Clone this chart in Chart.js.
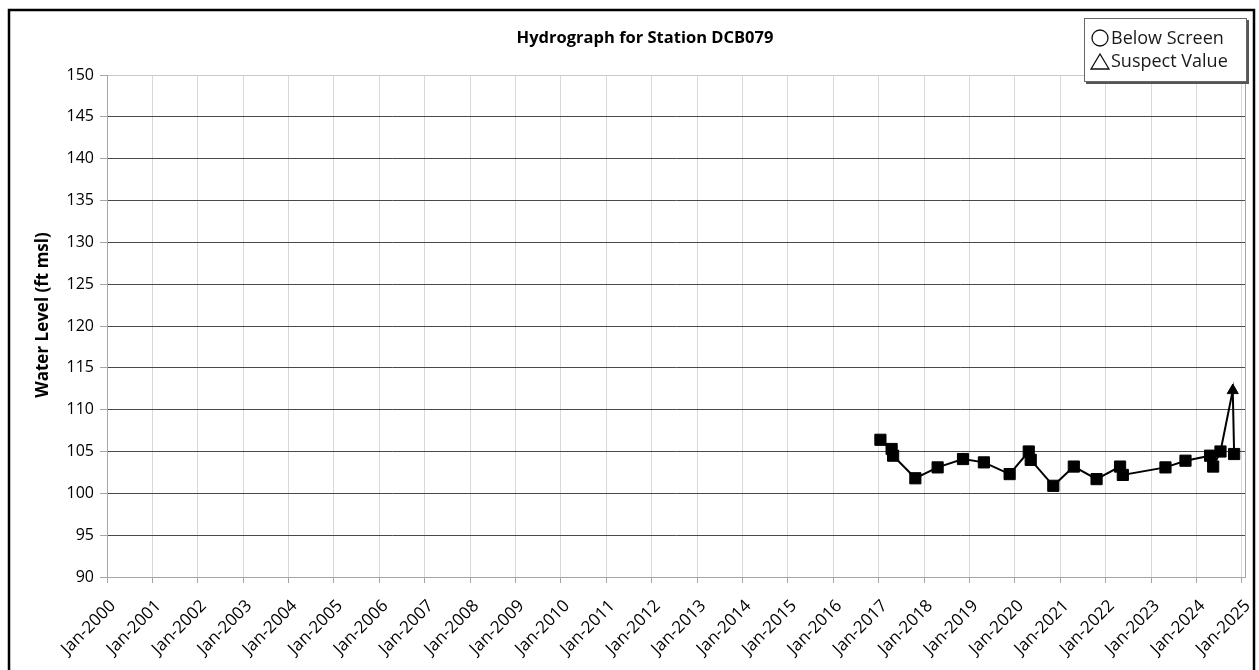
<!DOCTYPE html>
<html>
<head>
<meta charset="utf-8">
<title>Hydrograph for Station DCB079</title>
<script src="https://cdn.jsdelivr.net/npm/chart.js@4.4.1/dist/chart.umd.min.js"></script>
<style>
    html, body { margin: 0; padding: 0; background: #fff; }
    canvas { display: block; }
</style>
</head>
<body>
<canvas id="hydroChart" width="1259" height="670"></canvas>
<script>
const stationName = 'DCB079';
const yAxisTitle = 'Water Level (ft msl)';
const xTickYears = [2000, 2001, 2002, 2003, 2004, 2005, 2006, 2007, 2008, 2009, 2010, 2011, 2012,
    2013, 2014, 2015, 2016, 2017, 2018, 2019, 2020, 2021, 2022, 2023, 2024, 2025];
const yTickValues = [90, 95, 100, 105, 110, 115, 120, 125, 130, 135, 140, 145, 150];
const sampleDates = [
    '2017-01-15', '2017-04-15', '2017-04-27', '2017-10-23', '2018-04-20', '2018-11-10',
    '2019-04-27', '2019-11-20', '2020-04-22', '2020-05-08', '2020-11-06', '2021-04-20',
    '2021-10-20', '2022-04-27', '2022-05-19', '2023-04-27', '2023-10-05', '2024-04-20',
    '2024-05-15', '2024-07-13', '2024-10-20', '2024-10-31'
];
const waterLevels = [
    106.4, 105.3, 104.5, 101.8, 103.1, 104.1,
    103.7, 102.3, 105.0, 104.0, 100.9, 103.2,
    101.7, 103.2, 102.2, 103.1, 103.9, 104.5,
    103.2, 105.0, 112.3, 104.7
];
const sampleQualifiers = [
    '', '', '', '', '', '',
    '', '', '', '', '', '',
    '', '', '', '', '', '',
    '', '', 'Suspect Value', ''
];
const legendLabels = ['Below Screen', 'Suspect Value'];

const FONT = "'Open Sans', 'Noto Sans', sans-serif";

function toDecimalYear(iso) {
    const [y, m, d] = iso.split('-').map(Number);
    const start = Date.UTC(y, 0, 1);
    const end = Date.UTC(y + 1, 0, 1);
    return y + (Date.UTC(y, m - 1, d) - start) / (end - start);
}

// white page, outer frame, titles and the qualifier key box
const framePlugin = {
    id: 'frame',
    beforeDraw(chart) {
        const ctx = chart.ctx;
        ctx.save();
        ctx.fillStyle = '#fff';
        ctx.fillRect(0, 0, chart.width, chart.height);
        ctx.restore();
    },
    beforeDatasetsDraw(chart) {
        const { ctx, chartArea } = chart;
        ctx.save();
        ctx.strokeStyle = '#a6a6a6';
        ctx.lineWidth = 1;
        ctx.beginPath();
        ctx.moveTo(Math.round(chartArea.right) + 0.5, chartArea.top);
        ctx.lineTo(Math.round(chartArea.right) + 0.5, chartArea.bottom);
        ctx.stroke();
        ctx.restore();
    },
    afterDraw(chart) {
        const ctx = chart.ctx;
        ctx.save();

        // outer frame
        ctx.strokeStyle = '#000';
        ctx.lineWidth = 2.5;
        ctx.strokeRect(9, 10, 1245, 700);

        // chart title
        ctx.fillStyle = '#000';
        ctx.font = 'bold 16.5px ' + FONT;
        ctx.textAlign = 'center';
        ctx.textBaseline = 'alphabetic';
        ctx.fillText('Hydrograph for Station ' + stationName, 645, 43);

        // y axis title
        ctx.save();
        ctx.translate(43, 315);
        ctx.rotate(-Math.PI / 2);
        ctx.font = 'bold 17px ' + FONT;
        ctx.textBaseline = 'middle';
        ctx.fillText(yAxisTitle, 0, 0);
        ctx.restore();

        // key box with shadow
        const bx = 1084, by = 18, bw = 163, bh = 64;
        ctx.fillStyle = '#555';
        ctx.fillRect(bx + 2, by + 2, bw, bh);
        ctx.fillStyle = '#fff';
        ctx.fillRect(bx, by, bw, bh);
        ctx.strokeStyle = '#666';
        ctx.lineWidth = 1;
        ctx.strokeRect(bx + 0.5, by + 0.5, bw - 1, bh - 1);

        ctx.strokeStyle = '#111';
        ctx.lineWidth = 1.3;
        ctx.beginPath();
        ctx.arc(1100, 38, 8, 0, Math.PI * 2);
        ctx.stroke();
        ctx.beginPath();
        ctx.moveTo(1100, 54);
        ctx.lineTo(1109, 69);
        ctx.lineTo(1091, 69);
        ctx.closePath();
        ctx.stroke();

        ctx.fillStyle = '#1a1a1a';
        ctx.font = '18px ' + FONT;
        ctx.textAlign = 'left';
        ctx.fillText(legendLabels[0], 1111, 44);
        ctx.fillText(legendLabels[1], 1111, 67);
        ctx.restore();
    }
};

class HydrographChart {
    constructor(canvasId) {
        this.canvas = document.getElementById(canvasId);
        this.chart = null;
        this.init();
    }

    init() {
        const points = sampleDates.map((d, i) => ({ x: toDecimalYear(d), y: waterLevels[i] }));
        const isSuspect = i => sampleQualifiers[i] === 'Suspect Value';

        this.chart = new Chart(this.canvas, {
            type: 'line',
            data: {
                datasets: [{
                    label: 'Water Level',
                    data: points,
                    borderColor: '#000',
                    backgroundColor: '#000',
                    borderWidth: 2,
                    tension: 0,
                    pointStyle: ctx => isSuspect(ctx.dataIndex) ? 'triangle' : 'rect',
                    pointRadius: ctx => isSuspect(ctx.dataIndex) ? 6.4 : 7.9,
                    pointBorderWidth: 1,
                    pointBorderColor: '#000',
                    pointBackgroundColor: '#000'
                }]
            },
            options: {
                responsive: false,
                animation: false,
                events: [],
                layout: { padding: { left: 8, right: 14, top: 75, bottom: 0 } },
                plugins: {
                    legend: { display: false },
                    title: { display: false },
                    tooltip: { enabled: false }
                },
                scales: {
                    x: {
                        type: 'linear',
                        min: xTickYears[0],
                        max: xTickYears[xTickYears.length - 1] + 0.07,
                        afterBuildTicks: scale => {
                            scale.ticks = xTickYears.map(v => ({ value: v }));
                        },
                        afterFit: scale => {
                            scale.height = 93;
                            scale.paddingLeft = 0;
                            scale.paddingRight = 0;
                        },
                        grid: {
                            color: '#d9d9d9',
                            tickColor: '#a6a6a6',
                            tickLength: 6,
                            lineWidth: 1
                        },
                        border: { color: '#a6a6a6', width: 1 },
                        ticks: {
                            autoSkip: false,
                            minRotation: 45,
                            maxRotation: 45,
                            padding: 13,
                            labelOffset: 6,
                            color: '#000',
                            font: { family: FONT, size: 17 },
                            callback: v => 'Jan-' + v
                        }
                    },
                    y: {
                        min: yTickValues[0],
                        max: yTickValues[yTickValues.length - 1],
                        afterBuildTicks: scale => {
                            scale.ticks = yTickValues.map(v => ({ value: v }));
                        },
                        afterFit: scale => {
                            scale.width = 99;
                            scale.paddingTop = 0;
                            scale.paddingBottom = 0;
                        },
                        grid: {
                            color: ctx => (ctx.tick && (ctx.tick.value === 150 || ctx.tick.value === 90)) ? '#c8c8c8' : '#4a4a4a',
                            tickColor: '#a6a6a6',
                            tickLength: 7,
                            lineWidth: 1
                        },
                        border: { color: '#a6a6a6', width: 1 },
                        ticks: {
                            padding: 6,
                            color: '#000',
                            font: { family: FONT, size: 16 }
                        }
                    }
                }
            },
            plugins: [framePlugin]
        });
    }
}

window.hydrograph = new HydrographChart('hydroChart');
</script>
</body>
</html>
